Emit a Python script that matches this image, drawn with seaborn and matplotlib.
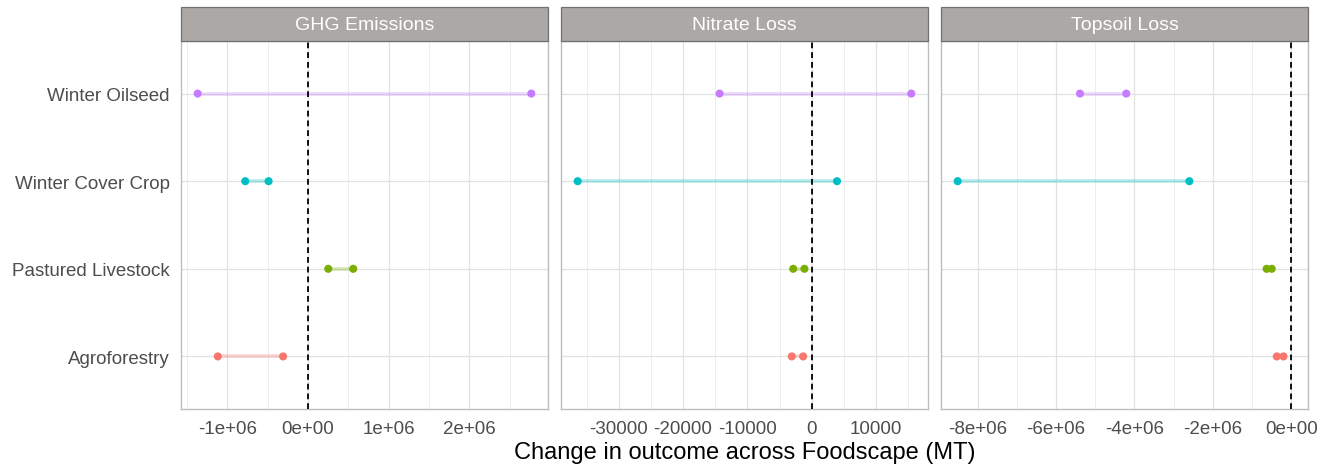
import matplotlib
matplotlib.use("Agg")
import matplotlib.pyplot as plt
from matplotlib.patches import Rectangle
from matplotlib.ticker import MultipleLocator, FuncFormatter
import seaborn as sns
import pandas as pd

# values
outcomes = ["GHG Emissions", "Nitrate Loss", "Topsoil Loss"]
practices = ["Agroforestry", "Pastured Livestock", "Winter Cover Crop", "Winter Oilseed"]
colors = ["#F8766D", "#7CAE00", "#00BFC4", "#C77CFF"]

ghg_low = [-1.12e6, 0.25e6, -0.78e6, -1.37e6]
ghg_high = [-0.31e6, 0.56e6, -0.49e6, 2.77e6]
nitrate_low = [-3100, -2880, -36380, -14330]
nitrate_high = [-1330, -1130, 3930, 15480]
topsoil_low = [-0.37e6, -0.63e6, -8.51e6, -5.39e6]
topsoil_high = [-0.20e6, -0.50e6, -2.60e6, -4.21e6]

tick_steps = [1e6, 10000, 2e6]
sci_labels = [True, False, True]

rows = []
for o, lo, hi in zip(outcomes, [ghg_low, nitrate_low, topsoil_low],
                     [ghg_high, nitrate_high, topsoil_high]):
    for p, a, b in zip(practices, lo, hi):
        rows.append({"outcome": o, "practice": p, "low": a, "high": b})
df = pd.DataFrame(rows)
df["ypos"] = df["practice"].map({p: i + 1 for i, p in enumerate(practices)})
long = df.melt(id_vars=["outcome", "practice", "ypos"], value_vars=["low", "high"],
               value_name="value")
palette = dict(zip(practices, colors))

sns.set_style("white")
plt.rcParams["font.family"] = ["Liberation Sans", "DejaVu Sans"]

W, H = 1325, 477
fig = plt.figure(figsize=(W / 100, H / 100), dpi=100)
lefts = [181, 561, 941]
pw = 367
top, bottom = 42, 410
strip_h = 34

for i, o in enumerate(outcomes):
    ax = fig.add_axes([lefts[i] / W, 1 - bottom / H, pw / W, (bottom - top) / H])
    sub = df[df["outcome"] == o]
    for _, r in sub.iterrows():
        ax.hlines(r["ypos"], r["low"], r["high"], colors=palette[r["practice"]],
                  alpha=0.3, lw=2.6, zorder=2)
    sns.scatterplot(data=long[long["outcome"] == o], x="value", y="ypos",
                    hue="practice", palette=palette, s=34, edgecolor="none",
                    legend=False, ax=ax, zorder=3)
    ax.axvline(0, color="black", ls=(0, (3.2, 2.2)), lw=1.3, zorder=4)

    lo = min(sub["low"].min(), 0)
    hi = max(sub["high"].max(), 0)
    pad = (hi - lo) * 0.05
    ax.set_xlim(lo - pad, hi + pad)
    ax.set_ylim(0.4, 4.6)

    step = tick_steps[i]
    ax.xaxis.set_major_locator(MultipleLocator(step))
    ax.xaxis.set_minor_locator(MultipleLocator(step / 2))
    if sci_labels[i]:
        ax.xaxis.set_major_formatter(FuncFormatter(lambda v, _: f"{v:.0e}"))
    else:
        ax.xaxis.set_major_formatter(FuncFormatter(lambda v, _: f"{v:.0f}"))

    ax.set_yticks(range(1, len(practices) + 1))
    if i == 0:
        ax.set_yticklabels(practices)
    else:
        ax.set_yticklabels([])
        ax.tick_params(axis="y", length=0)

    ax.grid(True, which="major", color="#E2E2E2", lw=0.9, zorder=0)
    ax.grid(True, which="minor", axis="x", color="#EDEDED", lw=0.7, zorder=0)
    ax.set_axisbelow(True)
    for s in ax.spines.values():
        s.set_color("#BDBDBD")
        s.set_linewidth(1.0)
    ax.tick_params(axis="both", which="major", length=3.6, width=0.8, color="#BDBDBD",
                   labelsize=13.5, labelcolor="#4D4D4D", pad=4.5)
    ax.tick_params(axis="x", which="minor", length=0)
    ax.set_xlabel("")
    ax.set_ylabel("")

    ax.add_patch(Rectangle((0, 1), 1, strip_h / (bottom - top), transform=ax.transAxes,
                           facecolor="#ABA8A6", edgecolor="#707070", lw=0.9,
                           clip_on=False, zorder=5))
    ax.text(0.5, 1 + strip_h / 2 / (bottom - top), o, transform=ax.transAxes,
            ha="center", va="center", color="white", fontsize=14, zorder=6)

fig.text((lefts[0] + lefts[2] + pw) / 2 / W, 1 - 453 / H,
         "Change in outcome across Foodscape (MT)", ha="center", va="center",
         fontsize=17, color="black")

fig.savefig("out.png", dpi=100)
